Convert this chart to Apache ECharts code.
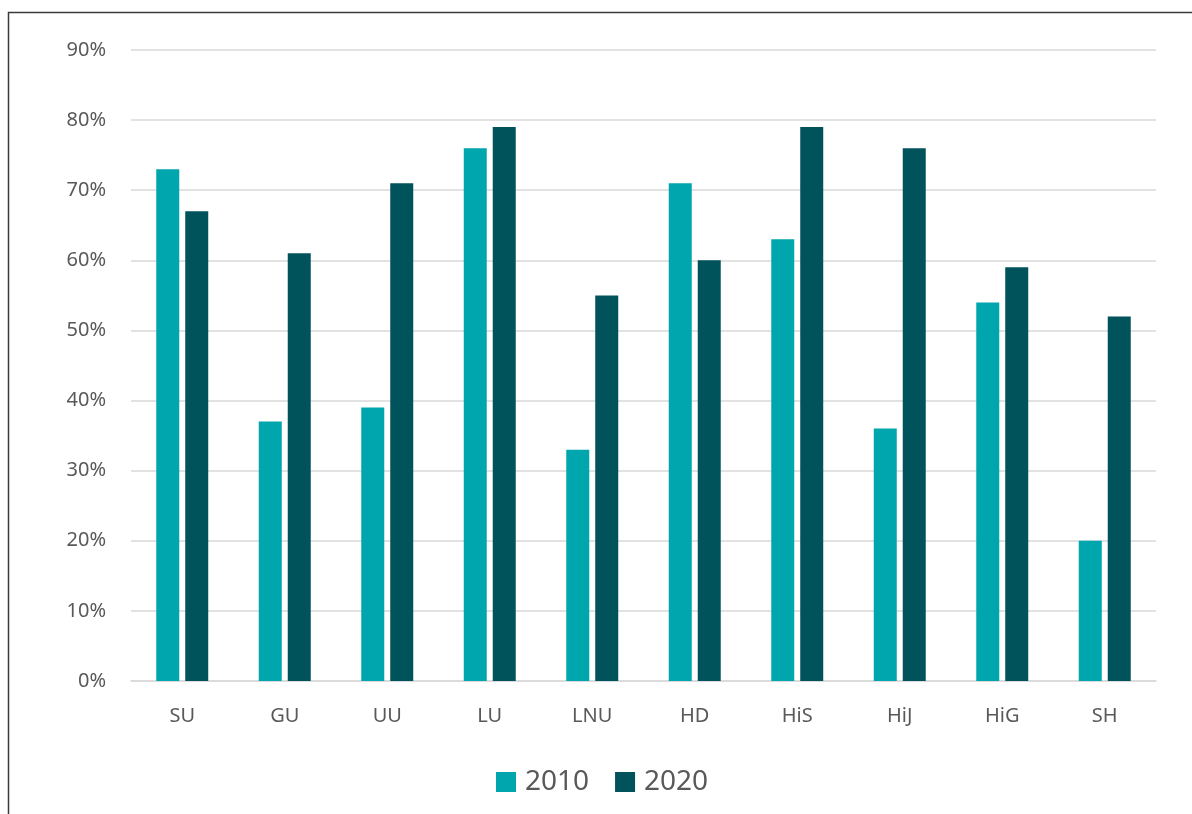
<!DOCTYPE html>
<html>
<head>
<meta charset="utf-8">
<script src="https://cdn.jsdelivr.net/npm/echarts@6/dist/echarts.min.js"></script>
<style>
  html, body { margin: 0; padding: 0; background: #fff; }
  #chart { width: 1192px; height: 814px; }
</style>
</head>
<body>
<div id="chart"></div>
<script>
// Universities and their share for 2010 and 2020 (percent)
const categories = ['SU', 'GU', 'UU', 'LU', 'LNU', 'HD', 'HiS', 'HiJ', 'HiG', 'SH'];
const values2010 = [73, 37, 39, 76, 33, 71, 63, 36, 54, 20];
const values2020 = [67, 61, 71, 79, 55, 60, 79, 76, 59, 52];
const seriesNames = ['2010', '2020'];

const chart = echarts.init(document.getElementById('chart'), null, { renderer: 'canvas' });
const font = '"Noto Sans", "Open Sans", sans-serif';

chart.setOption({
  backgroundColor: '#fff',
  animation: false,
  graphic: [{
    type: 'rect',
    shape: { x: 8.5, y: 12.5, width: 1300, height: 900 },
    style: { fill: 'none', stroke: '#3a3a3a', lineWidth: 1.5 },
    silent: true
  }],
  grid: { left: 131, right: 36, top: 50, bottom: 133 },
  legend: {
    bottom: 13,
    left: 491,
    itemWidth: 20,
    itemHeight: 20,
    itemGap: 26,
    icon: 'rect',
    textStyle: { fontFamily: font, fontSize: 28, color: '#595959', padding: [0, 0, 0, 4] },
    data: seriesNames
  },
  xAxis: {
    type: 'category',
    data: categories,
    axisLine: { lineStyle: { color: '#d9d9d9', width: 1.5 } },
    axisTick: { show: false },
    axisLabel: { fontFamily: font, fontSize: 20, color: '#595959', margin: 25 }
  },
  yAxis: {
    type: 'value',
    min: 0,
    max: 90,
    interval: 10,
    axisLine: { show: false },
    axisTick: { show: false },
    splitLine: { lineStyle: { color: '#d9d9d9', width: 1.5 } },
    axisLabel: { fontFamily: font, fontSize: 20, color: '#595959', margin: 25, formatter: '{value}%' }
  },
  series: [
    {
      name: seriesNames[0],
      type: 'bar',
      data: values2010,
      barWidth: 23,
      barGap: '26%',
      itemStyle: { color: '#00A6AD' }
    },
    {
      name: seriesNames[1],
      type: 'bar',
      data: values2020,
      barWidth: 23,
      itemStyle: { color: '#00525B' }
    }
  ]
});
</script>
</body>
</html>
